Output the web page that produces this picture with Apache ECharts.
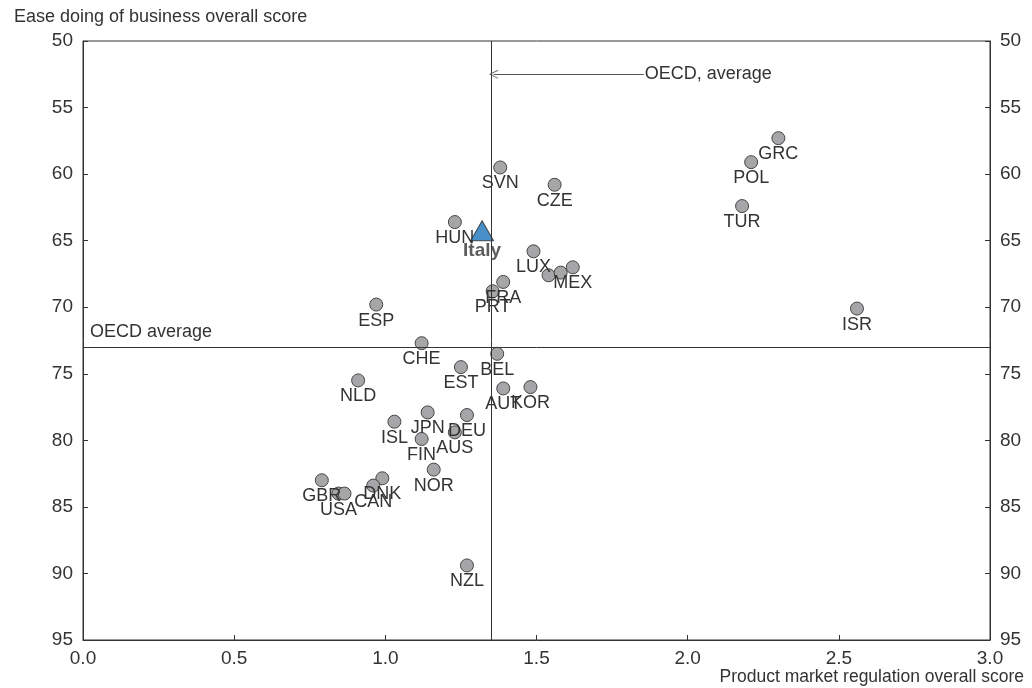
<!DOCTYPE html>
<html>
<head>
<meta charset="utf-8">
<script src="https://cdn.jsdelivr.net/npm/echarts@6/dist/echarts.min.js"></script>
<style>html,body{margin:0;padding:0;background:#fff}#c{width:1032px;height:688px}</style>
</head>
<body>
<div id="c"></div>
<script>
const countries = ['GRC','POL','TUR','ISR','SVN','CZE','HUN','LUX','','','MEX','FRA','PRT','ESP','CHE','BEL','EST','NLD','AUT','KOR','JPN','ISL','DEU','FIN','AUS','NOR','GBR','USA','','DNK','CAN','NZL'];
const pmrScore = [2.30,2.21,2.18,2.56,1.38,1.56,1.23,1.49,1.54,1.58,1.62,1.39,1.355,0.97,1.12,1.37,1.25,0.91,1.39,1.48,1.14,1.03,1.27,1.12,1.23,1.16,0.79,0.845,0.865,0.99,0.96,1.27];
const dbScore = [57.3,59.1,62.4,70.1,59.5,60.8,63.6,65.8,67.6,67.4,67.0,68.1,68.8,69.8,72.7,73.5,74.5,75.5,76.1,76.0,77.9,78.6,78.1,79.9,79.4,82.2,83.0,84.0,84.0,82.85,83.4,89.4];
const italy = {name:'Italy', pmr:1.32, db:64.25};
const oecdAvgPmr = 1.355;
const oecdAvgDb = 73.0;
const arrowFrom = [1.855, 52.5];
const xTicks = {min:0, max:3, interval:0.5};
const yTicks = {min:50, max:95, interval:5};

const txt = '#333333';
const font = 'Liberation Sans, Arial, sans-serif';
const chart = echarts.init(document.getElementById('c'));
const yAxisBase = (pos) => ({
  type:'value', position:pos, inverse:true,
  min:yTicks.min, max:yTicks.max, interval:yTicks.interval,
  axisLine:{show:true, lineStyle:{color:txt, width:1}},
  axisTick:{show:true, inside:true, length:5, lineStyle:{color:txt}},
  axisLabel:{fontSize:19, color:txt, fontFamily:font, margin:10},
  splitLine:{show:false}
});
chart.setOption({
  animation:false,
  textStyle:{fontFamily:font},
  title:[
    {text:'Ease doing of business overall score', left:9, top:3, textStyle:{fontSize:18, fontWeight:'normal', color:txt, fontFamily:font}},
    {text:'Product market regulation overall score', right:3, top:663, textStyle:{fontSize:17.5, fontWeight:'normal', color:txt, fontFamily:font}}
  ],
  grid:{left:83, right:42, top:41, bottom:48, show:true, borderColor:txt, borderWidth:1, backgroundColor:'transparent'},
  xAxis:{
    type:'value', min:xTicks.min, max:xTicks.max, interval:xTicks.interval,
    axisLine:{show:true, lineStyle:{color:txt}},
    axisTick:{show:true, inside:true, length:5, lineStyle:{color:txt}},
    axisLabel:{fontSize:19, color:txt, fontFamily:font, margin:9, formatter:v=>v.toFixed(1)},
    splitLine:{show:false}
  },
  yAxis:[yAxisBase('left'), yAxisBase('right')],
  series:[
    {
      type:'scatter',
      data:countries.map((n,i)=>({name:n, value:[pmrScore[i], dbScore[i]]})),
      symbol:'circle', symbolSize:13,
      itemStyle:{color:'#a6a6a8', borderColor:'#454545', borderWidth:1, opacity:1},
      label:{show:true, position:'bottom', distance:0, formatter:p=>p.name, fontSize:18, color:txt, fontFamily:font},
      z:3,
      markLine:{
        silent:true, symbol:['none','none'], animation:false,
        lineStyle:{color:txt, width:1, type:'solid'},
        data:[
          {xAxis:oecdAvgPmr, label:{show:false}},
          {yAxis:oecdAvgDb, label:{show:true, position:'insideStartTop', formatter:'OECD average', fontSize:18, color:txt, fontFamily:font, distance:[7,6]}},
          [
            {coord:arrowFrom, symbol:'none', label:{show:true, position:'start', formatter:'OECD, average', fontSize:18, color:txt, fontFamily:font, distance:1}, lineStyle:{color:'#555555', width:1}},
            {coord:[oecdAvgPmr+0.003, arrowFrom[1]], symbol:'path://M0,10 L5,0 L10,10 L9,10 L5,2 L1,10 Z', symbolSize:[9,9]}
          ]
        ]
      }
    },
    {
      type:'scatter',
      data:[{name:italy.name, value:[italy.pmr, italy.db]}],
      symbol:'triangle', symbolSize:[23,20],
      itemStyle:{color:'#1c74bc', borderColor:'#2a2a2a', borderWidth:1},
      label:{show:true, position:'bottom', distance:0, formatter:p=>p.name, fontSize:19, fontWeight:'bold', color:txt, fontFamily:font},
      z:4
    }
  ]
});
</script>
</body>
</html>
